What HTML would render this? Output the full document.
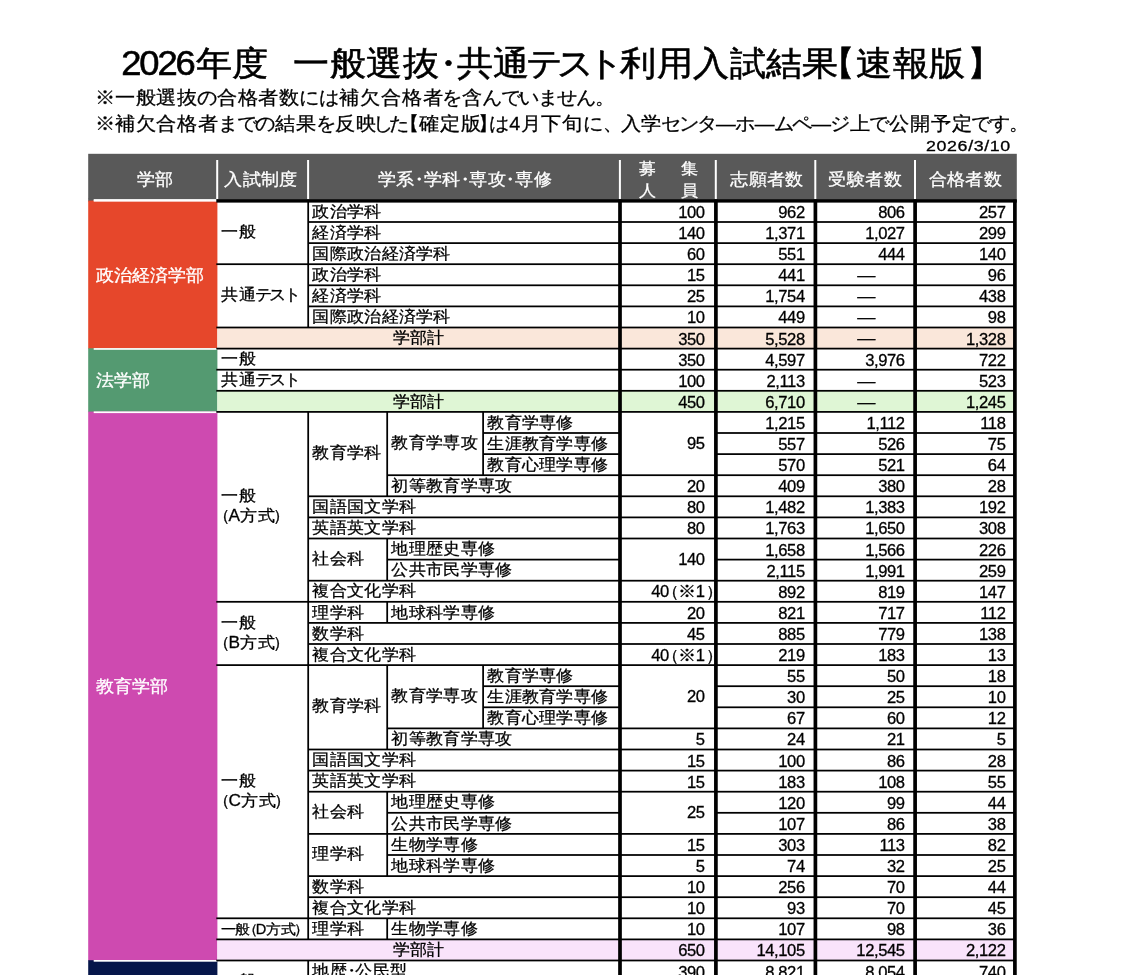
<!DOCTYPE html>
<html lang="ja"><head><meta charset="utf-8"><title>2026年度 一般選抜・共通テスト利用入試結果【速報版】</title>
<style>
html,body{margin:0;padding:0;background:#fff}
body{width:1138px;height:975px;overflow:hidden;position:relative;font-family:"Liberation Sans",sans-serif;color:#000}
#g{position:absolute;left:0;top:0}
#t{position:absolute;left:0;top:0;width:1138px;height:975px;will-change:transform}
#t div{position:absolute;white-space:nowrap;overflow:visible;height:21.1px;line-height:21.1px;font-size:17.3px;transform:scaleY(.94);-webkit-text-stroke:.3px currentColor}
i{display:inline-block;font-style:normal;text-align:center;width:1em}
#t div.ttl{font-size:36.4px;height:40px;line-height:40px;-webkit-text-stroke:.6px currentColor}
.dg{letter-spacing:-2.1px;margin-right:2.1px}
#t div.nt{font-size:19.8px;height:24px;line-height:24px}
#t div.dt{font-size:14.6px;height:18px;line-height:18px;text-align:right;letter-spacing:.5px;transform:scale(1.22,.98);transform-origin:100% 50%}
#t div.h{color:#fff;text-align:center;font-size:18.4px}
#t div.h2{font-size:17.1px}
#t div.f{color:#fff;font-size:18px}
#t div.c{text-align:center}
#t div.n{text-align:right;font-size:16.6px;letter-spacing:-0.4px}
#t div.n.c{text-align:center}
#t div.n.d{font-size:18.2px;letter-spacing:0}
#t div.s15{font-size:15.5px}
#t div.s13{font-size:14.6px}
</style></head>
<body>
<svg id="g" width="1138" height="975" viewBox="0 0 1138 975">
<rect x="88.20" y="153.80" width="928.60" height="45.30" fill="#595959"/>
<rect x="88.20" y="198.60" width="5.50" height="3.00" fill="#595959"/>
<rect x="88.20" y="200.60" width="129.20" height="148.30" fill="#E6472B"/>
<rect x="88.20" y="348.30" width="129.20" height="63.90" fill="#549A71"/>
<rect x="88.20" y="411.60" width="129.20" height="549.20" fill="#CE4AB0"/>
<rect x="88.20" y="960.20" width="129.20" height="42.80" fill="#06164A"/>
<rect x="217.30" y="327.50" width="797.60" height="21.10" fill="#FAE7DA"/>
<rect x="217.30" y="390.80" width="797.60" height="21.10" fill="#DFF6D5"/>
<rect x="217.30" y="939.40" width="797.60" height="21.10" fill="#F9E3FB"/>
<rect x="93.70" y="199.95" width="123.60" height="1.70" fill="#fff"/>
<rect x="93.70" y="348.10" width="123.60" height="1.70" fill="#fff"/>
<rect x="93.70" y="411.40" width="123.60" height="1.70" fill="#fff"/>
<rect x="93.70" y="960.00" width="123.60" height="1.70" fill="#fff"/>
<rect x="216.20" y="160.00" width="2.00" height="39.10" fill="#fff"/>
<rect x="307.10" y="160.00" width="2.00" height="39.10" fill="#fff"/>
<rect x="618.90" y="160.00" width="2.00" height="39.10" fill="#fff"/>
<rect x="714.80" y="160.00" width="2.00" height="39.10" fill="#fff"/>
<rect x="814.30" y="160.00" width="2.00" height="39.10" fill="#fff"/>
<rect x="914.00" y="160.00" width="2.00" height="39.10" fill="#fff"/>
<rect x="308.20" y="221.12" width="706.70" height="1.75" fill="#000"/>
<rect x="308.20" y="242.23" width="706.70" height="1.75" fill="#000"/>
<rect x="216.30" y="263.32" width="798.60" height="1.75" fill="#000"/>
<rect x="308.20" y="284.43" width="706.70" height="1.75" fill="#000"/>
<rect x="308.20" y="305.52" width="706.70" height="1.75" fill="#000"/>
<rect x="216.30" y="326.62" width="798.60" height="1.75" fill="#000"/>
<rect x="216.30" y="347.73" width="798.60" height="1.75" fill="#000"/>
<rect x="216.30" y="368.83" width="798.60" height="1.75" fill="#000"/>
<rect x="216.30" y="389.93" width="798.60" height="1.75" fill="#000"/>
<rect x="216.30" y="411.02" width="798.60" height="1.75" fill="#000"/>
<rect x="483.10" y="432.12" width="136.90" height="1.75" fill="#000"/>
<rect x="715.90" y="432.12" width="299.00" height="1.75" fill="#000"/>
<rect x="483.10" y="453.23" width="136.90" height="1.75" fill="#000"/>
<rect x="715.90" y="453.23" width="299.00" height="1.75" fill="#000"/>
<rect x="387.20" y="474.33" width="627.70" height="1.75" fill="#000"/>
<rect x="308.20" y="495.43" width="706.70" height="1.75" fill="#000"/>
<rect x="308.20" y="516.52" width="706.70" height="1.75" fill="#000"/>
<rect x="308.20" y="537.62" width="706.70" height="1.75" fill="#000"/>
<rect x="387.20" y="558.73" width="232.80" height="1.75" fill="#000"/>
<rect x="715.90" y="558.73" width="299.00" height="1.75" fill="#000"/>
<rect x="308.20" y="579.83" width="706.70" height="1.75" fill="#000"/>
<rect x="216.30" y="600.93" width="798.60" height="1.75" fill="#000"/>
<rect x="308.20" y="622.02" width="706.70" height="1.75" fill="#000"/>
<rect x="308.20" y="643.12" width="706.70" height="1.75" fill="#000"/>
<rect x="216.30" y="664.23" width="798.60" height="1.75" fill="#000"/>
<rect x="483.10" y="685.33" width="136.90" height="1.75" fill="#000"/>
<rect x="715.90" y="685.33" width="299.00" height="1.75" fill="#000"/>
<rect x="483.10" y="706.43" width="136.90" height="1.75" fill="#000"/>
<rect x="715.90" y="706.43" width="299.00" height="1.75" fill="#000"/>
<rect x="387.20" y="727.52" width="627.70" height="1.75" fill="#000"/>
<rect x="308.20" y="748.62" width="706.70" height="1.75" fill="#000"/>
<rect x="308.20" y="769.73" width="706.70" height="1.75" fill="#000"/>
<rect x="308.20" y="790.83" width="706.70" height="1.75" fill="#000"/>
<rect x="387.20" y="811.93" width="232.80" height="1.75" fill="#000"/>
<rect x="715.90" y="811.93" width="299.00" height="1.75" fill="#000"/>
<rect x="308.20" y="833.02" width="706.70" height="1.75" fill="#000"/>
<rect x="387.20" y="854.12" width="627.70" height="1.75" fill="#000"/>
<rect x="308.20" y="875.23" width="706.70" height="1.75" fill="#000"/>
<rect x="308.20" y="896.33" width="706.70" height="1.75" fill="#000"/>
<rect x="216.30" y="917.43" width="798.60" height="1.75" fill="#000"/>
<rect x="216.30" y="938.52" width="798.60" height="1.75" fill="#000"/>
<rect x="216.30" y="959.62" width="798.60" height="1.75" fill="#000"/>
<rect x="307.32" y="200.90" width="1.75" height="126.60" fill="#000"/>
<rect x="307.32" y="411.90" width="1.75" height="527.50" fill="#000"/>
<rect x="307.32" y="960.50" width="1.75" height="42.20" fill="#000"/>
<rect x="386.32" y="411.90" width="1.75" height="84.40" fill="#000"/>
<rect x="386.32" y="538.50" width="1.75" height="42.20" fill="#000"/>
<rect x="386.32" y="601.80" width="1.75" height="21.10" fill="#000"/>
<rect x="386.32" y="665.10" width="1.75" height="84.40" fill="#000"/>
<rect x="386.32" y="791.70" width="1.75" height="84.40" fill="#000"/>
<rect x="386.32" y="918.30" width="1.75" height="21.10" fill="#000"/>
<rect x="482.23" y="411.90" width="1.75" height="63.30" fill="#000"/>
<rect x="482.23" y="665.10" width="1.75" height="63.30" fill="#000"/>
<rect x="216.30" y="199.10" width="800.50" height="3.50" fill="#000"/>
<rect x="618.15" y="199.60" width="3.70" height="780.40" fill="#000"/>
<rect x="714.05" y="199.60" width="3.70" height="780.40" fill="#000"/>
<rect x="813.55" y="199.60" width="3.70" height="780.40" fill="#000"/>
<rect x="913.25" y="199.60" width="3.70" height="780.40" fill="#000"/>
<rect x="1013.05" y="199.60" width="3.70" height="780.40" fill="#000"/>
</svg>
<div id="t">
<div class="ttl" style="left:121.2px;top:43.5px;width:940.0px;"><span class="dg">2026</span><i>年</i><i>度</i><i style="margin:0 -0.162em">　</i><i>一</i><i>般</i><i>選</i><i>抜</i><i style="margin:0 -0.255em">・</i><i>共</i><i>通</i><i style="margin:0 -0.084em">テ</i><i style="margin:0 -0.084em">ス</i><i style="margin:0 -0.084em">ト</i><i>利</i><i>用</i><i>入</i><i>試</i><i>結</i><i>果</i><i style="margin:0 0.030em 0 -0.550em">【</i><i>速</i><i>報</i><i>版</i><i style="margin:0 -0.620em 0 0.030em">】</i></div>
<div class="nt" style="left:95.2px;top:85.4px;width:930.0px;"><i style="width:1.050em;margin:0 -0.037em">※</i><i style="width:1.050em">一</i><i style="width:1.050em">般</i><i style="width:1.050em">選</i><i style="width:1.050em">抜</i><i style="width:1.050em;margin:0 -0.052em">の</i><i style="width:1.050em">合</i><i style="width:1.050em">格</i><i style="width:1.050em">者</i><i style="width:1.050em">数</i><i style="width:1.050em;margin:0 -0.026em">に</i><i style="width:1.050em;margin:0 -0.026em">は</i><i style="width:1.050em">補</i><i style="width:1.050em">欠</i><i style="width:1.050em">合</i><i style="width:1.050em">格</i><i style="width:1.050em">者</i><i style="width:1.050em;margin:0 -0.052em">を</i><i style="width:1.050em">含</i><i style="width:1.050em;margin:0 -0.052em">ん</i><i style="width:1.050em;margin:0 -0.052em">で</i><i style="width:1.050em;margin:0 -0.052em">い</i><i style="width:1.050em;margin:0 -0.052em">ま</i><i style="width:1.050em;margin:0 -0.052em">せ</i><i style="width:1.050em;margin:0 -0.052em">ん</i><i style="width:1.050em;margin:0 -0.399em 0 -0.021em">。</i></div>
<div class="nt" style="left:95.2px;top:111.2px;width:930.0px;"><i style="width:1.050em;margin:0 -0.037em">※</i><i style="width:1.050em">補</i><i style="width:1.050em">欠</i><i style="width:1.050em">合</i><i style="width:1.050em">格</i><i style="width:1.050em">者</i><i style="width:1.050em;margin:0 -0.052em">ま</i><i style="width:1.050em;margin:0 -0.052em">で</i><i style="width:1.050em;margin:0 -0.052em">の</i><i style="width:1.050em">結</i><i style="width:1.050em">果</i><i style="width:1.050em;margin:0 -0.052em">を</i><i style="width:1.050em">反</i><i style="width:1.050em">映</i><i style="width:1.050em;margin:0 -0.189em">し</i><i style="width:1.050em;margin:0 -0.052em">た</i><i style="width:1.050em;margin:0 -0.058em 0 -0.488em">【</i><i style="width:1.050em">確</i><i style="width:1.050em">定</i><i style="width:1.050em">版</i><i style="width:1.050em;margin:0 -0.472em 0 -0.147em">】</i><i style="width:1.050em;margin:0 -0.026em">は</i>4<i style="width:1.050em">月</i><i style="width:1.050em">下</i><i style="width:1.050em">旬</i><i style="width:1.050em;margin:0 -0.026em">に</i><i style="width:1.050em;margin:0 -0.168em 0 0.021em">、</i><i style="width:1.050em">入</i><i style="width:1.050em">学</i><i style="width:1.050em;margin:0 -0.074em">セ</i><i style="width:1.050em;margin:0 -0.074em">ン</i><i style="width:1.050em;margin:0 -0.074em">タ</i><i style="width:1.050em">―</i><i style="width:1.050em;margin:0 -0.074em">ホ</i><i style="width:1.050em">―</i><i style="width:1.050em;margin:0 -0.074em">ム</i><i style="width:1.050em;margin:0 -0.074em">ペ</i><i style="width:1.050em">―</i><i style="width:1.050em;margin:0 -0.074em">ジ</i><i style="width:1.050em">上</i><i style="width:1.050em;margin:0 -0.052em">で</i><i style="width:1.050em">公</i><i style="width:1.050em">開</i><i style="width:1.050em">予</i><i style="width:1.050em">定</i><i style="width:1.050em;margin:0 -0.052em">で</i><i style="width:1.050em;margin:0 -0.052em">す</i><i style="width:1.050em;margin:0 -0.399em 0 -0.021em">。</i></div>
<div class="dt" style="left:900.0px;top:137.2px;width:110.8px;">2026/3/10</div>
<div class="h" style="left:90.2px;top:168.2px;width:129.1px;"><i>学</i><i>部</i></div>
<div class="h" style="left:215.3px;top:168.2px;width:90.9px;"><i>入</i><i>試</i><i>制</i><i>度</i></div>
<div class="h" style="left:308.8px;top:168.2px;width:311.8px;"><i>学</i><i>系</i><i style="margin:0 -0.255em">・</i><i>学</i><i>科</i><i style="margin:0 -0.255em">・</i><i>専</i><i>攻</i><i style="margin:0 -0.255em">・</i><i>専</i><i>修</i></div>
<div class="h h2" style="left:621.0px;top:158.4px;width:95.9px;"><i>募</i><i style="width:1.46em"> </i><i>集</i></div>
<div class="h h2" style="left:621.0px;top:180.2px;width:95.9px;"><i>人</i><i style="width:1.46em"> </i><i>員</i></div>
<div class="h" style="left:717.1px;top:168.2px;width:99.5px;"><i>志</i><i>願</i><i>者</i><i>数</i></div>
<div class="h" style="left:815.2px;top:168.2px;width:99.7px;"><i>受</i><i>験</i><i>者</i><i>数</i></div>
<div class="h" style="left:915.3px;top:168.2px;width:99.8px;"><i>合</i><i>格</i><i>者</i><i>数</i></div>
<div class="f" style="left:95.8px;top:264.8px;width:125.0px;"><i>政</i><i>治</i><i>経</i><i>済</i><i>学</i><i>部</i></div>
<div class="f" style="left:95.8px;top:370.3px;width:125.0px;"><i>法</i><i>学</i><i>部</i></div>
<div class="f" style="left:95.8px;top:676.2px;width:125.0px;"><i>教</i><i>育</i><i>学</i><i>部</i></div>
<div class="b" style="left:221.3px;top:220.6px;width:86.9px;"><i>一</i><i>般</i></div>
<div class="b" style="left:221.3px;top:283.9px;width:86.9px;"><i>共</i><i>通</i><i style="margin:0 -0.080em">テ</i><i style="margin:0 -0.080em">ス</i><i style="margin:0 -0.080em">ト</i></div>
<div class="b" style="left:221.3px;top:348.3px;width:86.9px;"><i>一</i><i>般</i></div>
<div class="b" style="left:221.3px;top:369.4px;width:86.9px;"><i>共</i><i>通</i><i style="margin:0 -0.080em">テ</i><i style="margin:0 -0.080em">ス</i><i style="margin:0 -0.080em">ト</i></div>
<div class="b" style="left:221.3px;top:485.1px;width:86.9px;"><i>一</i><i>般</i></div>
<div class="b" style="left:221.3px;top:505.4px;width:86.9px;"><i style="margin:0 -0.090em 0 -0.490em">（</i>A<i>方</i><i>式</i><i style="margin:0 -0.520em 0 -0.080em">）</i></div>
<div class="b" style="left:221.3px;top:611.8px;width:86.9px;"><i>一</i><i>般</i></div>
<div class="b" style="left:221.3px;top:632.1px;width:86.9px;"><i style="margin:0 -0.090em 0 -0.490em">（</i>B<i>方</i><i>式</i><i style="margin:0 -0.520em 0 -0.080em">）</i></div>
<div class="b" style="left:221.3px;top:770.0px;width:86.9px;"><i>一</i><i>般</i></div>
<div class="b" style="left:221.3px;top:790.3px;width:86.9px;"><i style="margin:0 -0.090em 0 -0.490em">（</i>C<i>方</i><i>式</i><i style="margin:0 -0.520em 0 -0.080em">）</i></div>
<div class="b s13" style="left:220.5px;top:919.2px;width:88.9px;"><i>一</i><i>般</i><i style="margin:0 -0.090em 0 -0.490em">（</i>D<i>方</i><i>式</i><i style="margin:0 -0.520em 0 -0.080em">）</i></div>
<div class="b" style="left:221.3px;top:969.6px;width:86.9px;"><i>一</i><i>般</i></div>
<div class="b c" style="left:217.3px;top:327.2px;width:402.7px;"><i>学</i><i>部</i><i>計</i></div>
<div class="b c" style="left:217.3px;top:390.5px;width:402.7px;"><i>学</i><i>部</i><i>計</i></div>
<div class="b c" style="left:217.3px;top:939.1px;width:402.7px;"><i>学</i><i>部</i><i>計</i></div>
<div class="b" style="left:312.2px;top:200.6px;width:305.8px;"><i>政</i><i>治</i><i>学</i><i>科</i></div>
<div class="b" style="left:312.2px;top:221.7px;width:305.8px;"><i>経</i><i>済</i><i>学</i><i>科</i></div>
<div class="b" style="left:312.2px;top:242.8px;width:305.8px;"><i>国</i><i>際</i><i>政</i><i>治</i><i>経</i><i>済</i><i>学</i><i>科</i></div>
<div class="b" style="left:312.2px;top:263.9px;width:305.8px;"><i>政</i><i>治</i><i>学</i><i>科</i></div>
<div class="b" style="left:312.2px;top:285.0px;width:305.8px;"><i>経</i><i>済</i><i>学</i><i>科</i></div>
<div class="b" style="left:312.2px;top:306.1px;width:305.8px;"><i>国</i><i>際</i><i>政</i><i>治</i><i>経</i><i>済</i><i>学</i><i>科</i></div>
<div class="b" style="left:312.2px;top:496.0px;width:305.8px;"><i>国</i><i>語</i><i>国</i><i>文</i><i>学</i><i>科</i></div>
<div class="b" style="left:312.2px;top:517.1px;width:305.8px;"><i>英</i><i>語</i><i>英</i><i>文</i><i>学</i><i>科</i></div>
<div class="b" style="left:312.2px;top:580.4px;width:305.8px;"><i>複</i><i>合</i><i>文</i><i>化</i><i>学</i><i>科</i></div>
<div class="b" style="left:312.2px;top:622.6px;width:305.8px;"><i>数</i><i>学</i><i>科</i></div>
<div class="b" style="left:312.2px;top:643.7px;width:305.8px;"><i>複</i><i>合</i><i>文</i><i>化</i><i>学</i><i>科</i></div>
<div class="b" style="left:312.2px;top:749.2px;width:305.8px;"><i>国</i><i>語</i><i>国</i><i>文</i><i>学</i><i>科</i></div>
<div class="b" style="left:312.2px;top:770.3px;width:305.8px;"><i>英</i><i>語</i><i>英</i><i>文</i><i>学</i><i>科</i></div>
<div class="b" style="left:312.2px;top:875.8px;width:305.8px;"><i>数</i><i>学</i><i>科</i></div>
<div class="b" style="left:312.2px;top:896.9px;width:305.8px;"><i>複</i><i>合</i><i>文</i><i>化</i><i>学</i><i>科</i></div>
<div class="b" style="left:312.2px;top:960.2px;width:305.8px;"><i>地</i><i>歴</i><i style="margin:0 -0.255em">・</i><i>公</i><i>民</i><i>型</i></div>
<div class="b" style="left:312.2px;top:442.1px;width:305.8px;"><i>教</i><i>育</i><i>学</i><i>科</i></div>
<div class="b" style="left:312.2px;top:547.6px;width:305.8px;"><i>社</i><i>会</i><i>科</i></div>
<div class="b" style="left:312.2px;top:601.5px;width:305.8px;"><i>理</i><i>学</i><i>科</i></div>
<div class="b" style="left:312.2px;top:695.4px;width:305.8px;"><i>教</i><i>育</i><i>学</i><i>科</i></div>
<div class="b" style="left:312.2px;top:800.9px;width:305.8px;"><i>社</i><i>会</i><i>科</i></div>
<div class="b" style="left:312.2px;top:843.0px;width:305.8px;"><i>理</i><i>学</i><i>科</i></div>
<div class="b" style="left:312.2px;top:918.0px;width:305.8px;"><i>理</i><i>学</i><i>科</i></div>
<div class="b" style="left:391.2px;top:431.6px;width:226.8px;"><i>教</i><i>育</i><i>学</i><i>専</i><i>攻</i></div>
<div class="b" style="left:391.2px;top:474.9px;width:226.8px;"><i>初</i><i>等</i><i>教</i><i>育</i><i>学</i><i>専</i><i>攻</i></div>
<div class="b" style="left:391.2px;top:538.2px;width:226.8px;"><i>地</i><i>理</i><i>歴</i><i>史</i><i>専</i><i>修</i></div>
<div class="b" style="left:391.2px;top:559.3px;width:226.8px;"><i>公</i><i>共</i><i>市</i><i>民</i><i>学</i><i>専</i><i>修</i></div>
<div class="b" style="left:391.2px;top:601.5px;width:226.8px;"><i>地</i><i>球</i><i>科</i><i>学</i><i>専</i><i>修</i></div>
<div class="b" style="left:391.2px;top:684.8px;width:226.8px;"><i>教</i><i>育</i><i>学</i><i>専</i><i>攻</i></div>
<div class="b" style="left:391.2px;top:728.1px;width:226.8px;"><i>初</i><i>等</i><i>教</i><i>育</i><i>学</i><i>専</i><i>攻</i></div>
<div class="b" style="left:391.2px;top:791.4px;width:226.8px;"><i>地</i><i>理</i><i>歴</i><i>史</i><i>専</i><i>修</i></div>
<div class="b" style="left:391.2px;top:812.5px;width:226.8px;"><i>公</i><i>共</i><i>市</i><i>民</i><i>学</i><i>専</i><i>修</i></div>
<div class="b" style="left:391.2px;top:833.6px;width:226.8px;"><i>生</i><i>物</i><i>学</i><i>専</i><i>修</i></div>
<div class="b" style="left:391.2px;top:854.7px;width:226.8px;"><i>地</i><i>球</i><i>科</i><i>学</i><i>専</i><i>修</i></div>
<div class="b" style="left:391.2px;top:918.0px;width:226.8px;"><i>生</i><i>物</i><i>学</i><i>専</i><i>修</i></div>
<div class="b" style="left:487.1px;top:411.6px;width:130.9px;"><i>教</i><i>育</i><i>学</i><i>専</i><i>修</i></div>
<div class="b" style="left:487.1px;top:432.7px;width:130.9px;"><i>生</i><i>涯</i><i>教</i><i>育</i><i>学</i><i>専</i><i>修</i></div>
<div class="b" style="left:487.1px;top:453.8px;width:130.9px;"><i>教</i><i>育</i><i>心</i><i>理</i><i>学</i><i>専</i><i>修</i></div>
<div class="b" style="left:487.1px;top:664.8px;width:130.9px;"><i>教</i><i>育</i><i>学</i><i>専</i><i>修</i></div>
<div class="b" style="left:487.1px;top:685.9px;width:130.9px;"><i>生</i><i>涯</i><i>教</i><i>育</i><i>学</i><i>専</i><i>修</i></div>
<div class="b" style="left:487.1px;top:707.0px;width:130.9px;"><i>教</i><i>育</i><i>心</i><i>理</i><i>学</i><i>専</i><i>修</i></div>
<div class="n" style="left:620.0px;top:201.9px;width:84.7px;">100</div>
<div class="n" style="left:620.0px;top:223.0px;width:84.7px;">140</div>
<div class="n" style="left:620.0px;top:244.1px;width:84.7px;">60</div>
<div class="n" style="left:620.0px;top:265.2px;width:84.7px;">15</div>
<div class="n" style="left:620.0px;top:286.3px;width:84.7px;">25</div>
<div class="n" style="left:620.0px;top:307.4px;width:84.7px;">10</div>
<div class="n" style="left:620.0px;top:328.5px;width:84.7px;">350</div>
<div class="n" style="left:620.0px;top:349.6px;width:84.7px;">350</div>
<div class="n" style="left:620.0px;top:370.7px;width:84.7px;">100</div>
<div class="n" style="left:620.0px;top:391.8px;width:84.7px;">450</div>
<div class="n" style="left:620.0px;top:432.9px;width:84.7px;">95</div>
<div class="n" style="left:620.0px;top:476.2px;width:84.7px;">20</div>
<div class="n" style="left:620.0px;top:497.3px;width:84.7px;">80</div>
<div class="n" style="left:620.0px;top:518.4px;width:84.7px;">80</div>
<div class="n" style="left:620.0px;top:548.9px;width:84.7px;">140</div>
<div class="n" style="left:620.0px;top:581.4px;width:91.4px;">40<i style="margin:0 -.05em 0 -.42em">（</i><i style="margin:0 0 0 0;font-size:18px">※</i>1<i style="margin:0 -.65em 0 .06em">）</i></div>
<div class="n" style="left:620.0px;top:602.8px;width:84.7px;">20</div>
<div class="n" style="left:620.0px;top:623.9px;width:84.7px;">45</div>
<div class="n" style="left:620.0px;top:644.7px;width:91.4px;">40<i style="margin:0 -.05em 0 -.42em">（</i><i style="margin:0 0 0 0;font-size:18px">※</i>1<i style="margin:0 -.65em 0 .06em">）</i></div>
<div class="n" style="left:620.0px;top:686.1px;width:84.7px;">20</div>
<div class="n" style="left:620.0px;top:729.4px;width:84.7px;">5</div>
<div class="n" style="left:620.0px;top:750.5px;width:84.7px;">15</div>
<div class="n" style="left:620.0px;top:771.6px;width:84.7px;">15</div>
<div class="n" style="left:620.0px;top:802.1px;width:84.7px;">25</div>
<div class="n" style="left:620.0px;top:834.9px;width:84.7px;">15</div>
<div class="n" style="left:620.0px;top:856.0px;width:84.7px;">5</div>
<div class="n" style="left:620.0px;top:877.1px;width:84.7px;">10</div>
<div class="n" style="left:620.0px;top:898.2px;width:84.7px;">10</div>
<div class="n" style="left:620.0px;top:919.3px;width:84.7px;">10</div>
<div class="n" style="left:620.0px;top:940.4px;width:84.7px;">650</div>
<div class="n" style="left:620.0px;top:961.5px;width:84.7px;">390</div>
<div class="n" style="left:715.9px;top:201.9px;width:88.9px;">962</div>
<div class="n" style="left:815.4px;top:201.9px;width:89.3px;">806</div>
<div class="n" style="left:915.1px;top:201.9px;width:90.4px;">257</div>
<div class="n" style="left:715.9px;top:223.0px;width:88.9px;">1,371</div>
<div class="n" style="left:815.4px;top:223.0px;width:89.3px;">1,027</div>
<div class="n" style="left:915.1px;top:223.0px;width:90.4px;">299</div>
<div class="n" style="left:715.9px;top:244.1px;width:88.9px;">551</div>
<div class="n" style="left:815.4px;top:244.1px;width:89.3px;">444</div>
<div class="n" style="left:915.1px;top:244.1px;width:90.4px;">140</div>
<div class="n" style="left:715.9px;top:265.2px;width:88.9px;">441</div>
<div class="n c d" style="left:816.4px;top:265.1px;width:99.7px;">―</div>
<div class="n" style="left:915.1px;top:265.2px;width:90.4px;">96</div>
<div class="n" style="left:715.9px;top:286.3px;width:88.9px;">1,754</div>
<div class="n c d" style="left:816.4px;top:286.2px;width:99.7px;">―</div>
<div class="n" style="left:915.1px;top:286.3px;width:90.4px;">438</div>
<div class="n" style="left:715.9px;top:307.4px;width:88.9px;">449</div>
<div class="n c d" style="left:816.4px;top:307.3px;width:99.7px;">―</div>
<div class="n" style="left:915.1px;top:307.4px;width:90.4px;">98</div>
<div class="n" style="left:715.9px;top:328.5px;width:88.9px;">5,528</div>
<div class="n c d" style="left:816.4px;top:328.4px;width:99.7px;">―</div>
<div class="n" style="left:915.1px;top:328.5px;width:90.4px;">1,328</div>
<div class="n" style="left:715.9px;top:349.6px;width:88.9px;">4,597</div>
<div class="n" style="left:815.4px;top:349.6px;width:89.3px;">3,976</div>
<div class="n" style="left:915.1px;top:349.6px;width:90.4px;">722</div>
<div class="n" style="left:715.9px;top:370.7px;width:88.9px;">2,113</div>
<div class="n c d" style="left:816.4px;top:370.6px;width:99.7px;">―</div>
<div class="n" style="left:915.1px;top:370.7px;width:90.4px;">523</div>
<div class="n" style="left:715.9px;top:391.8px;width:88.9px;">6,710</div>
<div class="n c d" style="left:816.4px;top:391.7px;width:99.7px;">―</div>
<div class="n" style="left:915.1px;top:391.8px;width:90.4px;">1,245</div>
<div class="n" style="left:715.9px;top:412.9px;width:88.9px;">1,215</div>
<div class="n" style="left:815.4px;top:412.9px;width:89.3px;">1,112</div>
<div class="n" style="left:915.1px;top:412.9px;width:90.4px;">118</div>
<div class="n" style="left:715.9px;top:434.0px;width:88.9px;">557</div>
<div class="n" style="left:815.4px;top:434.0px;width:89.3px;">526</div>
<div class="n" style="left:915.1px;top:434.0px;width:90.4px;">75</div>
<div class="n" style="left:715.9px;top:455.1px;width:88.9px;">570</div>
<div class="n" style="left:815.4px;top:455.1px;width:89.3px;">521</div>
<div class="n" style="left:915.1px;top:455.1px;width:90.4px;">64</div>
<div class="n" style="left:715.9px;top:476.2px;width:88.9px;">409</div>
<div class="n" style="left:815.4px;top:476.2px;width:89.3px;">380</div>
<div class="n" style="left:915.1px;top:476.2px;width:90.4px;">28</div>
<div class="n" style="left:715.9px;top:497.3px;width:88.9px;">1,482</div>
<div class="n" style="left:815.4px;top:497.3px;width:89.3px;">1,383</div>
<div class="n" style="left:915.1px;top:497.3px;width:90.4px;">192</div>
<div class="n" style="left:715.9px;top:518.4px;width:88.9px;">1,763</div>
<div class="n" style="left:815.4px;top:518.4px;width:89.3px;">1,650</div>
<div class="n" style="left:915.1px;top:518.4px;width:90.4px;">308</div>
<div class="n" style="left:715.9px;top:539.5px;width:88.9px;">1,658</div>
<div class="n" style="left:815.4px;top:539.5px;width:89.3px;">1,566</div>
<div class="n" style="left:915.1px;top:539.5px;width:90.4px;">226</div>
<div class="n" style="left:715.9px;top:560.6px;width:88.9px;">2,115</div>
<div class="n" style="left:815.4px;top:560.6px;width:89.3px;">1,991</div>
<div class="n" style="left:915.1px;top:560.6px;width:90.4px;">259</div>
<div class="n" style="left:715.9px;top:581.7px;width:88.9px;">892</div>
<div class="n" style="left:815.4px;top:581.7px;width:89.3px;">819</div>
<div class="n" style="left:915.1px;top:581.7px;width:90.4px;">147</div>
<div class="n" style="left:715.9px;top:602.8px;width:88.9px;">821</div>
<div class="n" style="left:815.4px;top:602.8px;width:89.3px;">717</div>
<div class="n" style="left:915.1px;top:602.8px;width:90.4px;">112</div>
<div class="n" style="left:715.9px;top:623.9px;width:88.9px;">885</div>
<div class="n" style="left:815.4px;top:623.9px;width:89.3px;">779</div>
<div class="n" style="left:915.1px;top:623.9px;width:90.4px;">138</div>
<div class="n" style="left:715.9px;top:645.0px;width:88.9px;">219</div>
<div class="n" style="left:815.4px;top:645.0px;width:89.3px;">183</div>
<div class="n" style="left:915.1px;top:645.0px;width:90.4px;">13</div>
<div class="n" style="left:715.9px;top:666.1px;width:88.9px;">55</div>
<div class="n" style="left:815.4px;top:666.1px;width:89.3px;">50</div>
<div class="n" style="left:915.1px;top:666.1px;width:90.4px;">18</div>
<div class="n" style="left:715.9px;top:687.2px;width:88.9px;">30</div>
<div class="n" style="left:815.4px;top:687.2px;width:89.3px;">25</div>
<div class="n" style="left:915.1px;top:687.2px;width:90.4px;">10</div>
<div class="n" style="left:715.9px;top:708.3px;width:88.9px;">67</div>
<div class="n" style="left:815.4px;top:708.3px;width:89.3px;">60</div>
<div class="n" style="left:915.1px;top:708.3px;width:90.4px;">12</div>
<div class="n" style="left:715.9px;top:729.4px;width:88.9px;">24</div>
<div class="n" style="left:815.4px;top:729.4px;width:89.3px;">21</div>
<div class="n" style="left:915.1px;top:729.4px;width:90.4px;">5</div>
<div class="n" style="left:715.9px;top:750.5px;width:88.9px;">100</div>
<div class="n" style="left:815.4px;top:750.5px;width:89.3px;">86</div>
<div class="n" style="left:915.1px;top:750.5px;width:90.4px;">28</div>
<div class="n" style="left:715.9px;top:771.6px;width:88.9px;">183</div>
<div class="n" style="left:815.4px;top:771.6px;width:89.3px;">108</div>
<div class="n" style="left:915.1px;top:771.6px;width:90.4px;">55</div>
<div class="n" style="left:715.9px;top:792.7px;width:88.9px;">120</div>
<div class="n" style="left:815.4px;top:792.7px;width:89.3px;">99</div>
<div class="n" style="left:915.1px;top:792.7px;width:90.4px;">44</div>
<div class="n" style="left:715.9px;top:813.8px;width:88.9px;">107</div>
<div class="n" style="left:815.4px;top:813.8px;width:89.3px;">86</div>
<div class="n" style="left:915.1px;top:813.8px;width:90.4px;">38</div>
<div class="n" style="left:715.9px;top:834.9px;width:88.9px;">303</div>
<div class="n" style="left:815.4px;top:834.9px;width:89.3px;">113</div>
<div class="n" style="left:915.1px;top:834.9px;width:90.4px;">82</div>
<div class="n" style="left:715.9px;top:856.0px;width:88.9px;">74</div>
<div class="n" style="left:815.4px;top:856.0px;width:89.3px;">32</div>
<div class="n" style="left:915.1px;top:856.0px;width:90.4px;">25</div>
<div class="n" style="left:715.9px;top:877.1px;width:88.9px;">256</div>
<div class="n" style="left:815.4px;top:877.1px;width:89.3px;">70</div>
<div class="n" style="left:915.1px;top:877.1px;width:90.4px;">44</div>
<div class="n" style="left:715.9px;top:898.2px;width:88.9px;">93</div>
<div class="n" style="left:815.4px;top:898.2px;width:89.3px;">70</div>
<div class="n" style="left:915.1px;top:898.2px;width:90.4px;">45</div>
<div class="n" style="left:715.9px;top:919.3px;width:88.9px;">107</div>
<div class="n" style="left:815.4px;top:919.3px;width:89.3px;">98</div>
<div class="n" style="left:915.1px;top:919.3px;width:90.4px;">36</div>
<div class="n" style="left:715.9px;top:940.4px;width:88.9px;">14,105</div>
<div class="n" style="left:815.4px;top:940.4px;width:89.3px;">12,545</div>
<div class="n" style="left:915.1px;top:940.4px;width:90.4px;">2,122</div>
<div class="n" style="left:715.9px;top:961.5px;width:88.9px;">8,821</div>
<div class="n" style="left:815.4px;top:961.5px;width:89.3px;">8,054</div>
<div class="n" style="left:915.1px;top:961.5px;width:90.4px;">740</div>
</div>
</body></html>
